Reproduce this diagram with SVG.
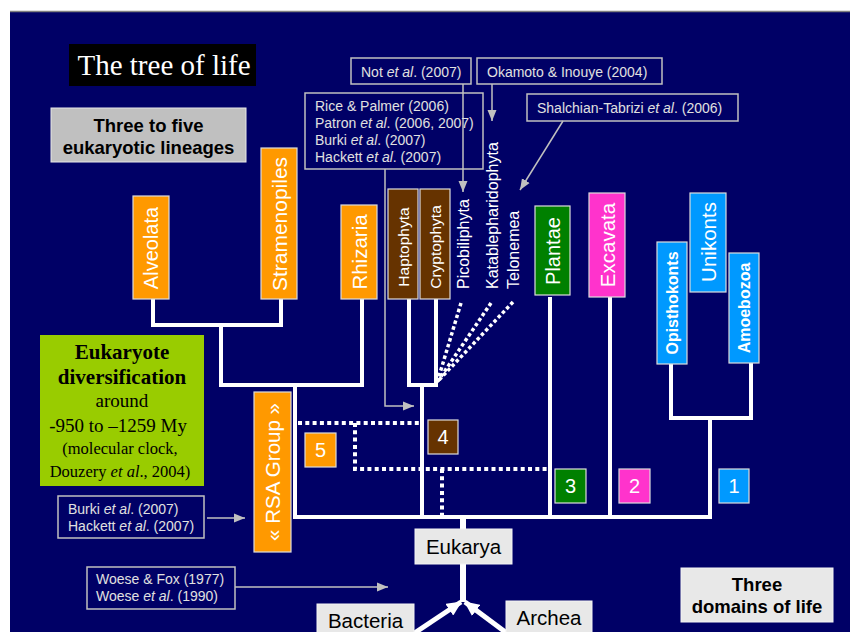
<svg xmlns="http://www.w3.org/2000/svg" width="850" height="632" viewBox="0 0 850 632">
<defs>
<style>
.tree{stroke:#fff;stroke-width:4;fill:none;stroke-linecap:square;stroke-linejoin:miter}
.dot{stroke:#fff;stroke-width:4;fill:none;stroke-dasharray:4 3.3}
.ddot{stroke:#fff;stroke-width:3.5;fill:none;stroke-dasharray:3.5 2.6}
.cite{stroke:#c0c0c0;stroke-width:1.5;fill:none}
.cbox{stroke:#c0c0c0;stroke-width:1.5;fill:none}
.ct{font-family:"Liberation Sans",Arial,sans-serif;font-size:14px;fill:#e0e0e0}
.box{stroke:#dcdcdc;stroke-width:1.2}
.vl{font-family:"Liberation Sans",Arial,sans-serif;fill:#fff;text-anchor:middle;dominant-baseline:central}
.num{font-family:"Liberation Sans",Arial,sans-serif;fill:#fff;text-anchor:middle;font-size:20px}
.lt{font-family:"Liberation Sans",Arial,sans-serif;fill:#000;text-anchor:middle}
.bd{font-weight:bold}
.or{fill:#ff9900}.br{fill:#663300}.gr{fill:#008000}.mg{fill:#ff33cc}.bl{fill:#0099ff}
.lg{fill:#e8e8e8;stroke:#f4f4f4;stroke-width:1}
</style>
<marker id="ga" markerUnits="userSpaceOnUse" markerWidth="12" markerHeight="10" refX="11" refY="5" orient="auto"><path d="M0,0.5 L11,5 L0,9.5 Z" fill="#c0c0c0"/></marker>
<marker id="wa" markerUnits="userSpaceOnUse" markerWidth="16" markerHeight="14" refX="14" refY="7" orient="auto"><path d="M0,0 L15,7 L0,14 Z" fill="#fff"/></marker>
</defs>

<rect x="0" y="0" width="850" height="632" fill="#fff"/>
<rect x="10" y="11" width="840" height="621" fill="#000066"/>
<line x1="10" y1="11.5" x2="850" y2="11.5" stroke="#808080" stroke-width="1.5"/>

<g id="connectors">
  <!-- tree -->
  <path class="tree" d="M153,299 V325 H281 V299"/>
  <path class="tree" d="M221,325 V385 H362 V299"/>
  <path class="tree" d="M295,385 V517 H710 V418"/>
  <path class="tree" d="M409,299 V385 H436 V299"/>
  <path class="tree" d="M422,385 V517"/>
  <path class="tree" d="M550,299 V517"/>
  <path class="tree" d="M610,299 V517"/>
  <path class="tree" d="M671,364 V418 H751 V363"/>
  <!-- dotted -->
  <path class="dot" d="M298,423 H420"/>
  <path class="dot" d="M355,423 V469 H548"/>
  <path class="dot" d="M442,469 V515"/>
  <path class="ddot" d="M461,303 L437,383"/>
  <path class="ddot" d="M491,303 L438,381"/>
  <path class="ddot" d="M513,302 L439,380"/>
  <!-- eukarya stems -->
  <line x1="463" y1="517" x2="463" y2="529" stroke="#fff" stroke-width="6"/>
  <line x1="463" y1="564" x2="463" y2="602" stroke="#fff" stroke-width="6"/>
  <line x1="413" y1="634" x2="461" y2="602" stroke="#fff" stroke-width="5" marker-end="url(#wa)"/>
  <line x1="508" y1="634" x2="465" y2="602" stroke="#fff" stroke-width="5" marker-end="url(#wa)"/>
  <!-- citation arrows -->
  <line class="cite" x1="463" y1="84" x2="463" y2="192" marker-end="url(#ga)"/>
  <line class="cite" x1="492" y1="84" x2="492" y2="121" marker-end="url(#ga)"/>
  <line class="cite" x1="563" y1="121" x2="520" y2="190" marker-end="url(#ga)"/>
  <path class="cite" d="M385,169 V406 H414" marker-end="url(#ga)"/>
  <line class="cite" x1="207" y1="518" x2="245" y2="518" marker-end="url(#ga)"/>
  <line class="cite" x1="235" y1="587" x2="388" y2="587" marker-end="url(#ga)"/>
</g>

<g id="title">
  <rect x="69" y="44" width="187" height="42" fill="#000"/>
  <text x="164" y="75" text-anchor="middle" font-family="'Liberation Serif','Times New Roman',serif" font-size="29" fill="#fff">The tree of life</text>
</g>

<g id="three-to-five">
  <rect x="51" y="108" width="195" height="54" fill="#c0c0c0" stroke="#e8e8e8" stroke-width="1"/>
  <text class="lt bd" x="148.5" y="132" font-size="18.5">Three to five</text>
  <text class="lt bd" x="148.5" y="154" font-size="18.5">eukaryotic lineages</text>
</g>

<g id="alveolata"><rect class="box or" x="133" y="196" width="36" height="103"/><text class="vl" font-size="20" transform="translate(151,248) rotate(-90)">Alveolata</text></g>
<g id="stramenopiles"><rect class="box or" x="261" y="148" width="36" height="151"/><text class="vl" font-size="21" transform="translate(279,224) rotate(-90)">Stramenopiles</text></g>
<g id="rhizaria"><rect class="box or" x="341" y="205" width="36" height="94"/><text class="vl" font-size="20.5" transform="translate(359,252) rotate(-90)">Rhizaria</text></g>
<g id="haptophyta"><rect class="box br" x="388" y="189" width="30" height="110"/><text class="vl" font-size="15.5" transform="translate(403,247) rotate(-90)">Haptophyta</text></g>
<g id="cryptophyta"><rect class="box br" x="420" y="189" width="30" height="110"/><text class="vl" font-size="15.5" transform="translate(435,247) rotate(-90)">Cryptophyta</text></g>
<g id="picobiliphyta"><text class="vl" font-size="16" text-anchor="start" style="text-anchor:start" transform="translate(463,289) rotate(-90)">Picobiliphyta</text></g>
<g id="katablepharidophyta"><text class="vl" font-size="16" style="text-anchor:start" transform="translate(492,289) rotate(-90)">Katablepharidophyta</text></g>
<g id="telonemea"><text class="vl" font-size="16" style="text-anchor:start" transform="translate(513,289) rotate(-90)">Telonemea</text></g>
<g id="plantae"><rect class="box gr" x="535" y="206" width="35" height="89"/><text class="vl" font-size="20" transform="translate(552.5,251) rotate(-90)">Plantae</text></g>
<g id="excavata"><rect class="box mg" x="589" y="193" width="36" height="104"/><text class="vl" font-size="20.5" transform="translate(607,245) rotate(-90)">Excavata</text></g>
<g id="opisthokonts"><rect class="box bl" x="657" y="242" width="30" height="122"/><text class="vl bd" font-size="16" transform="translate(672,303) rotate(-90)">Opisthokonts</text></g>
<g id="unikonts"><rect class="box bl" x="690" y="193" width="36" height="99"/><text class="vl" font-size="20.5" transform="translate(708,242) rotate(-90)">Unikonts</text></g>
<g id="amoebozoa"><rect class="box bl" x="729" y="253" width="30" height="110"/><text class="vl bd" font-size="16" transform="translate(744,308) rotate(-90)">Amoebozoa</text></g>

<g id="rsa-group"><rect class="box or" x="254" y="392" width="37" height="160"/><text class="vl" font-size="20.5" transform="translate(272.5,472) rotate(-90)">« RSA Group »</text></g>

<g id="n5"><rect class="box or" x="305" y="433" width="31" height="34"/><text class="num" x="320.5" y="457">5</text></g>
<g id="n4"><rect class="box br" x="428" y="420" width="30" height="34"/><text class="num" x="443" y="444">4</text></g>
<g id="n3"><rect class="box gr" x="555" y="469" width="31" height="34"/><text class="num" x="570.5" y="493">3</text></g>
<g id="n2"><rect class="box mg" x="619" y="469" width="31" height="34"/><text class="num" x="634.5" y="493">2</text></g>
<g id="n1"><rect class="box bl" x="719" y="469" width="30" height="34"/><text class="num" x="734" y="493">1</text></g>

<g id="eukaryote-diversification">
  <rect x="40" y="335" width="164" height="151" fill="#99cc00"/>
  <g font-family="'Liberation Serif','Times New Roman',serif" fill="#000" text-anchor="middle">
    <text x="122" y="359" font-size="21" font-weight="bold">Eukaryote</text>
    <text x="122" y="384" font-size="21" font-weight="bold">diversification</text>
    <text x="122" y="407" font-size="19">around</text>
    <text x="118" y="432" font-size="19">-950 to –1259 My</text>
    <text x="120" y="454" font-size="16.5">(molecular clock,</text>
    <text x="120" y="477" font-size="16.5">Douzery <tspan font-style="italic">et al</tspan>., 2004)</text>
  </g>
</g>

<g id="cite-not"><rect class="cbox" x="351" y="58" width="120" height="26"/><text class="ct" x="361" y="77">Not <tspan font-style="italic">et al</tspan>. (2007)</text></g>
<g id="cite-okamoto"><rect class="cbox" x="477" y="58" width="185" height="26"/><text class="ct" x="487" y="77">Okamoto &amp; Inouye (2004)</text></g>
<g id="cite-rice"><rect class="cbox" x="305" y="93" width="178" height="76"/>
  <text class="ct" x="315" y="111">Rice &amp; Palmer (2006)</text>
  <text class="ct" x="315" y="128">Patron <tspan font-style="italic">et al</tspan>. (2006, 2007)</text>
  <text class="ct" x="315" y="145">Burki <tspan font-style="italic">et al</tspan>. (2007)</text>
  <text class="ct" x="315" y="162">Hackett <tspan font-style="italic">et al</tspan>. (2007)</text>
</g>
<g id="cite-shalchian"><rect class="cbox" x="527" y="94" width="211" height="27"/><text class="ct" x="537" y="113">Shalchian-Tabrizi <tspan font-style="italic">et al</tspan>. (2006)</text></g>
<g id="cite-burki"><rect class="cbox" x="58" y="496" width="146" height="42"/>
  <text class="ct" x="68" y="514">Burki <tspan font-style="italic">et al</tspan>. (2007)</text>
  <text class="ct" x="68" y="531">Hackett <tspan font-style="italic">et al</tspan>. (2007)</text>
</g>
<g id="cite-woese"><rect class="cbox" x="87" y="567" width="148" height="42"/>
  <text class="ct" x="96" y="584">Woese &amp; Fox (1977)</text>
  <text class="ct" x="96" y="601">Woese <tspan font-style="italic">et al</tspan>. (1990)</text>
</g>

<g id="eukarya"><rect class="lg" x="415" y="529" width="97" height="35"/><text class="lt" x="463.5" y="554" font-size="20.5">Eukarya</text></g>
<g id="bacteria"><rect class="lg" x="317" y="604" width="97" height="32"/><text class="lt" x="365.5" y="628" font-size="20.5">Bacteria</text></g>
<g id="archea"><rect class="lg" x="506" y="601" width="86" height="35"/><text class="lt" x="549" y="625" font-size="20.5">Archea</text></g>

<g id="three-domains">
  <rect x="681" y="568" width="152" height="54" fill="#e8e8e8" stroke="#f4f4f4" stroke-width="1"/>
  <text class="lt bd" x="757" y="591" font-size="18.5">Three</text>
  <text class="lt bd" x="757" y="613" font-size="18.5">domains of life</text>
</g>
</svg>
